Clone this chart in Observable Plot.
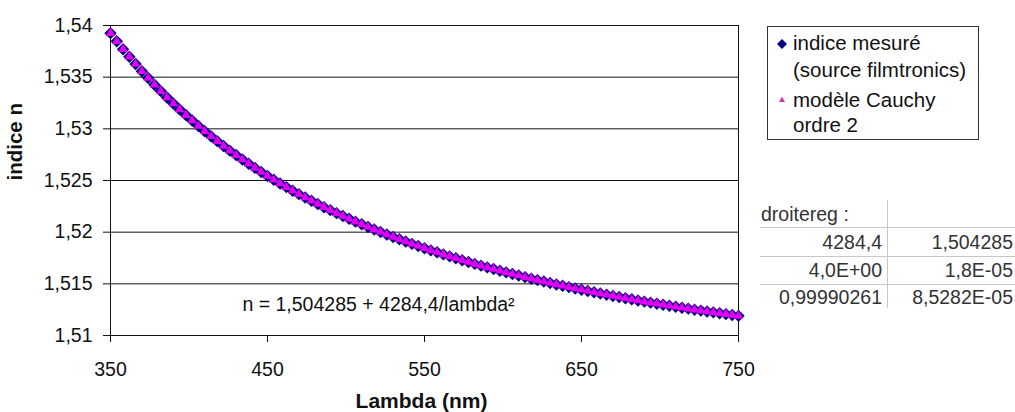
<!DOCTYPE html>
<html>
<head>
<meta charset="utf-8">
<script src="https://cdn.jsdelivr.net/npm/d3@7"></script>
<script src="https://cdn.jsdelivr.net/npm/@observablehq/plot@0.6"></script>
<style>
  body { margin: 0; background: white; }
  #wrap { position: relative; width: 1015px; height: 412px; font-family: "Liberation Sans", Arial, sans-serif; color: #111; }
  #wrap svg { display: block; }
  .abs { position: absolute; white-space: nowrap; line-height: 1; }
  .leg { font-size: 20.5px; left: 793px; }
  .tab { font-size: 19.5px; color: #333; }
  .hl { position: absolute; height: 0; border-top: 1px solid #c8c8c8; }
  .vl { position: absolute; width: 0; border-left: 1px solid #c8c8c8; }
</style>
</head>
<body>
<div id="wrap"></div>
<script>
// ---- data ----
const lambda = [350,354,358,362,366,370,374,378,382,386,390,394,398,402,406,410,414,418,422,426,430,434,438,442,446,450,454,458,462,466,470,474,478,482,486,490,494,498,502,506,510,514,518,522,526,530,534,538,542,546,550,554,558,562,566,570,574,578,582,586,590,594,598,602,606,610,614,618,622,626,630,634,638,642,646,650,654,658,662,666,670,674,678,682,686,690,694,698,702,706,710,714,718,722,726,730,734,738,742,746,750];
const nMesure = [1.53926,1.53847,1.53771,1.53698,1.53627,1.53558,1.53492,1.53427,1.53365,1.53304,1.53245,1.53188,1.53133,1.53080,1.53028,1.52977,1.52928,1.52881,1.52834,1.52789,1.52746,1.52703,1.52662,1.52622,1.52582,1.52544,1.52507,1.52471,1.52436,1.52401,1.52368,1.52335,1.52304,1.52273,1.52242,1.52213,1.52184,1.52156,1.52129,1.52102,1.52076,1.52050,1.52025,1.52001,1.51977,1.51954,1.51931,1.51909,1.51887,1.51866,1.51845,1.51824,1.51805,1.51785,1.51766,1.51747,1.51729,1.51711,1.51693,1.51676,1.51659,1.51643,1.51627,1.51611,1.51595,1.51580,1.51565,1.51550,1.51536,1.51522,1.51508,1.51494,1.51481,1.51468,1.51455,1.51443,1.51430,1.51418,1.51406,1.51394,1.51383,1.51372,1.51361,1.51350,1.51339,1.51328,1.51318,1.51308,1.51298,1.51288,1.51278,1.51269,1.51260,1.51250,1.51241,1.51233,1.51224,1.51215,1.51207,1.51198,1.51190];
const nCauchy = [1.53926,1.53847,1.53771,1.53698,1.53627,1.53558,1.53492,1.53427,1.53365,1.53304,1.53245,1.53188,1.53133,1.53080,1.53028,1.52977,1.52928,1.52881,1.52834,1.52789,1.52746,1.52703,1.52662,1.52622,1.52582,1.52544,1.52507,1.52471,1.52436,1.52401,1.52368,1.52335,1.52304,1.52273,1.52242,1.52213,1.52184,1.52156,1.52129,1.52102,1.52076,1.52050,1.52025,1.52001,1.51977,1.51954,1.51931,1.51909,1.51887,1.51866,1.51845,1.51824,1.51805,1.51785,1.51766,1.51747,1.51729,1.51711,1.51693,1.51676,1.51659,1.51643,1.51627,1.51611,1.51595,1.51580,1.51565,1.51550,1.51536,1.51522,1.51508,1.51494,1.51481,1.51468,1.51455,1.51443,1.51430,1.51418,1.51406,1.51394,1.51383,1.51372,1.51361,1.51350,1.51339,1.51328,1.51318,1.51308,1.51298,1.51288,1.51278,1.51269,1.51260,1.51250,1.51241,1.51233,1.51224,1.51215,1.51207,1.51198,1.51190];
const yTicks = [1.51, 1.515, 1.52, 1.525, 1.53, 1.535, 1.54];
const xTicks = [350, 450, 550, 650, 750];
const seriesNames = ["indice mesuré", "(source filmtronics)", "modèle Cauchy", "ordre 2"];
const equation = "n = 1,504285 + 4284,4/lambda²";
const xTitle = "Lambda (nm)";
const yTitle = "indice n";
const tableHeader = "droitereg :";
const tableCol1 = ["4284,4", "4,0E+00", "0,99990261"];
const tableCol2 = ["1,504285", "1,8E-05", "8,5282E-05"];

const measured = lambda.map((l, i) => ({l, n: nMesure[i]}));
const cauchy = lambda.map((l, i) => ({l, n: nCauchy[i]}));
const fmt = d => String(d).replace(".", ",");

const chart = Plot.plot({
  width: 1015, height: 412,
  marginLeft: 110, marginRight: 277, marginTop: 25, marginBottom: 77,
  x: {domain: [350, 750]},
  y: {domain: [1.51, 1.54]},
  style: {fontFamily: "Liberation Sans, Arial, sans-serif", fontSize: "19.5px", color: "#111", background: "white", overflow: "visible"},
  marks: [
    Plot.ruleY(yTicks, {stroke: "#111", strokeWidth: 1}),
    Plot.frame({stroke: "#111"}),
    Plot.axisY({ticks: yTicks, tickSize: 7, tickPadding: 11, tickFormat: fmt, label: null, stroke: "#111"}),
    Plot.axisX({ticks: xTicks, tickSize: 7, tickPadding: 20, tickFormat: d => String(d), label: null, stroke: "#111"}),
    Plot.dot(measured, {x: "l", y: "n", symbol: "diamond2", r: 5.6, fill: "#000080", stroke: "none"}),
    Plot.dot(cauchy, {x: "l", y: "n", symbol: "triangle", r: 3.6, fill: "#e000f0", stroke: "none"}),
    Plot.text([equation], {frameAnchor: "bottom", dx: -46, dy: -25, lineAnchor: "bottom", fill: "#111"}),
    Plot.text([xTitle], {frameAnchor: "bottom", dx: -3, dy: 72, lineAnchor: "bottom", fontWeight: "bold", fontSize: 21, fill: "#111"}),
    Plot.text([yTitle], {frameAnchor: "left", dx: -95, rotate: -90, fontWeight: "bold", fontSize: 20.5, fill: "#111"})
  ]
});

const wrap = document.getElementById("wrap");
wrap.appendChild(chart);

function addEl(cls, css, text) {
  const e = document.createElement("div");
  e.className = cls;
  Object.assign(e.style, css);
  if (text != null) e.textContent = text;
  wrap.appendChild(e);
  return e;
}

// Legend box
addEl("abs", {left: "767px", top: "26px", width: "210px", height: "112px", border: "1px solid #333", background: "white"});
const legTops = [32.6, 59.6, 89.6, 114.6];
seriesNames.forEach((t, i) => addEl("abs leg", {top: legTops[i] + "px"}, t));
const sym = document.createElementNS("http://www.w3.org/2000/svg", "svg");
sym.setAttribute("width", "20"); sym.setAttribute("height", "80");
Object.assign(sym.style, {position: "absolute", left: "772px", top: "34px"});
sym.innerHTML = '<path d="M10,5 L15,10 L10,15 L5,10 Z" fill="#000080"/><path d="M10,62.5 L13,68 L7,68 Z" fill="#c040c0"/>';
wrap.appendChild(sym);

// Regression table
const tabSize = 19.5, baseOff = 0.8465 * tabSize;
addEl("abs tab", {left: "761px", top: (222 - baseOff) + "px"}, tableHeader);
[227, 256, 284].forEach(y => addEl("hl", {left: "760px", top: y + "px", width: "255px"}));
addEl("vl", {left: "887px", top: "200px", height: "108px"});
const rowBase = [250, 278, 305];
tableCol1.forEach((t, i) => addEl("abs tab", {right: (1015 - 882) + "px", top: (rowBase[i] - baseOff) + "px"}, t));
tableCol2.forEach((t, i) => addEl("abs tab", {right: (1015 - 1013) + "px", top: (rowBase[i] - baseOff) + "px"}, t));
</script>
</body>
</html>
